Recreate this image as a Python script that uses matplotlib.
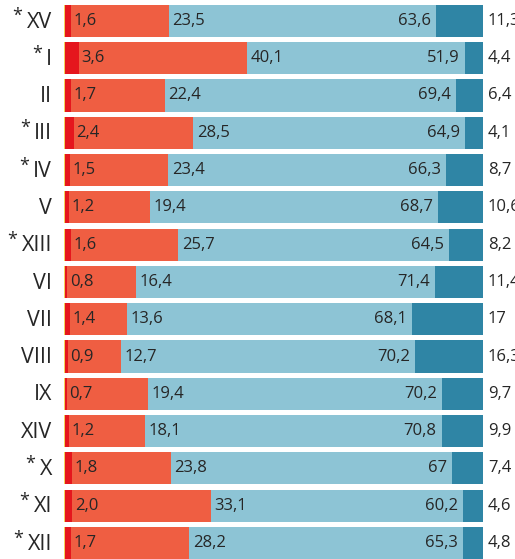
import matplotlib
matplotlib.use("Agg")
import matplotlib.pyplot as plt

# --- data ---
rows = ["XV", "I", "II", "III", "IV", "V", "XIII", "VI", "VII", "VIII",
        "IX", "XIV", "X", "XI", "XII"]
starred = [True, True, False, True, True, False, True, False, False, False,
           False, False, True, True, True]

seg1 = ["1,6", "3,6", "1,7", "2,4", "1,5", "1,2", "1,6", "0,8", "1,4", "0,9",
        "0,7", "1,2", "1,8", "2,0", "1,7"]
seg2 = ["23,5", "40,1", "22,4", "28,5", "23,4", "19,4", "25,7", "16,4", "13,6", "12,7",
        "19,4", "18,1", "23,8", "33,1", "28,2"]
seg3 = ["63,6", "51,9", "69,4", "64,9", "66,3", "68,7", "64,5", "71,4", "68,1", "70,2",
        "70,2", "70,8", "67", "60,2", "65,3"]
seg4 = ["11,3", "4,4", "6,4", "4,1", "8,7", "10,6", "8,2", "11,4", "17", "16,3",
        "9,7", "9,9", "7,4", "4,6", "4,8"]

COLORS = ["#e5161d", "#ef5e42", "#8dc4d5", "#2f85a5"]
TEXT = "#262626"
FONT = "Open Sans"

def num(s):
    return float(s.replace(",", "."))

series = [[num(s) for s in col] for col in (seg1, seg2, seg3, seg4)]
labels = [seg1, seg2, seg3, seg4]

fig = plt.figure(figsize=(5.15, 5.59), dpi=100)
fig.patch.set_facecolor("white")
ax = fig.add_axes([64 / 515, 0, 419 / 515, 1])
ax.set_xlim(0, 100)
ax.set_ylim(14.43, -0.56)
ax.axis("off")

y = list(range(len(rows)))
left = [0.0] * len(rows)
ends = []
for k, vals in enumerate(series):
    ax.barh(y, vals, left=left, height=0.86, color=COLORS[k], linewidth=0)
    left = [l + v for l, v in zip(left, vals)]
    ends.append(list(left))

# thin yellowish edge at the bar start
ax.barh(y, 0.3, left=0, height=0.86, color="#f3d35a", linewidth=0)

for i in y:
    # value labels
    ax.text(ends[0][i] + 0.6, i, labels[0][i], ha="left", va="center",
            fontsize=12, color=TEXT, family=FONT)
    ax.text(ends[1][i] + 0.8, i, labels[1][i], ha="left", va="center",
            fontsize=12, color=TEXT, family=FONT)
    ax.text(ends[2][i] - 1.2, i, labels[2][i], ha="right", va="center",
            fontsize=12, color=TEXT, family=FONT)
    ax.text(101.2, i, labels[3][i], ha="left", va="center",
            fontsize=12, color=TEXT, family=FONT, clip_on=False)

    # row labels
    t = ax.text(-2.9, i + 0.03, rows[i], ha="right", va="center",
                fontsize=15.5, color=TEXT, family=FONT, clip_on=False)
    if starred[i]:
        ax.annotate("*", xy=(0, 1), xycoords=t, xytext=(-3, 3),
                    textcoords="offset points", ha="right", va="top",
                    fontsize=13, color=TEXT, family=FONT)

fig.savefig("out.png", dpi=100, facecolor="white")
